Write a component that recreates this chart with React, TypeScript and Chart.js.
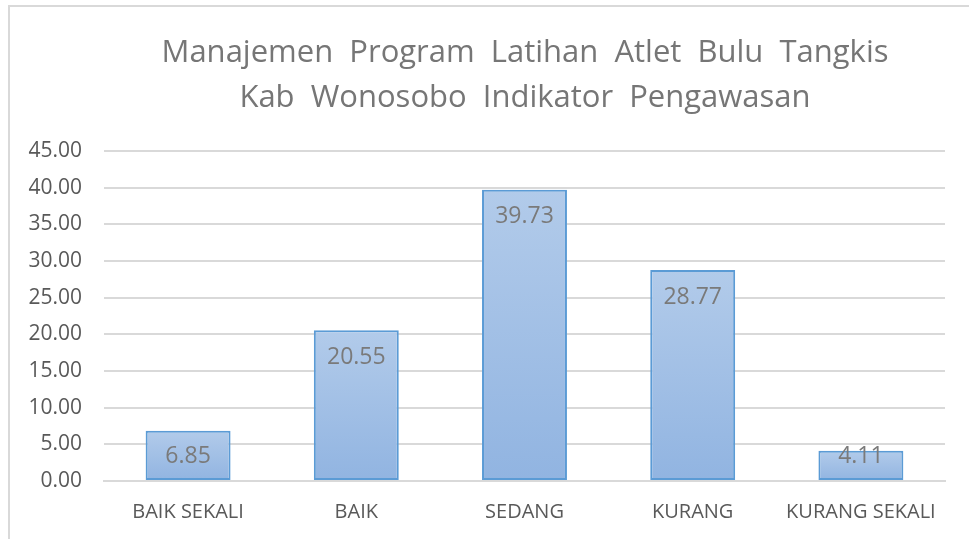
import React, { useEffect, useRef } from "react";
import { Chart, registerables } from "chart.js";

Chart.register(...registerables);

const categories = ["BAIK SEKALI", "BAIK", "SEDANG", "KURANG", "KURANG SEKALI"];
const values = [6.85, 20.55, 39.73, 28.77, 4.11];
const titleLines = [
  "Manajemen  Program  Latihan  Atlet  Bulu  Tangkis",
  "Kab  Wonosobo  Indikator  Pengawasan",
];
const yMin = 0;
const yMax = 45;
const yStep = 5;

const FONT = "'Open Sans', 'Noto Sans', sans-serif";

const decorPlugin = {
  id: "decor",
  beforeDraw(chart: any) {
    const ctx = chart.ctx;
    ctx.save();
    ctx.fillStyle = "#ffffff";
    ctx.fillRect(0, 0, chart.width, chart.height);
    ctx.strokeStyle = "#d9d9d9";
    ctx.lineWidth = 2;
    ctx.beginPath();
    ctx.moveTo(9, chart.height + 5);
    ctx.lineTo(9, 6);
    ctx.lineTo(chart.width + 5, 6);
    ctx.stroke();
    ctx.fillStyle = "#767676";
    ctx.font = `31px ${FONT}`;
    ctx.textAlign = "center";
    ctx.textBaseline = "middle";
    ctx.fillText(titleLines[0], 525, 53);
    ctx.fillText(titleLines[1], 525, 98);
    ctx.restore();
  },
  afterDatasetsDraw(chart: any) {
    const ctx = chart.ctx;
    const meta = chart.getDatasetMeta(0);
    const base = chart.scales.y.getPixelForValue(0);
    ctx.save();
    ctx.fillStyle = "#7a7a7a";
    ctx.font = `23px ${FONT}`;
    ctx.textAlign = "center";
    ctx.textBaseline = "middle";
    meta.data.forEach((el: any, i: number) => {
      let y = el.y + 27;
      if (y > base - 25) y = Math.max(el.y + 6, base - 25);
      ctx.fillText(values[i].toFixed(2), el.x, y);
    });
    ctx.restore();
  },
};

export default function App() {
  const ref = useRef<HTMLCanvasElement>(null);
  useEffect(() => {
    document.body.style.margin = "0";
    const canvas = ref.current!;
    const chart = new Chart(canvas, {
      type: "bar",
      data: {
        labels: categories,
        datasets: [
          {
            data: values,
            backgroundColor: (c: any) => {
              const ch = c.chart;
              const sy = ch.scales && ch.scales.y;
              if (!sy || c.raw === undefined) return "#a2bfe5";
              const top = sy.getPixelForValue(c.raw);
              const bottom = sy.getPixelForValue(0);
              if (!isFinite(top) || !isFinite(bottom) || top === bottom) return "#a2bfe5";
              const g = ch.ctx.createLinearGradient(0, top, 0, bottom);
              g.addColorStop(0, "#b2cbea");
              g.addColorStop(1, "#91b4e1");
              return g;
            },
            borderColor: "#5b9bd5",
            borderWidth: 2,
            borderSkipped: false,
            barPercentage: 0.505,
            categoryPercentage: 1,
          },
        ],
      },
      options: {
        responsive: false,
        animation: false,
        devicePixelRatio: 1,
        layout: { padding: { top: 151, right: 24, left: 0, bottom: 0 } },
        plugins: {
          legend: { display: false },
          title: { display: false },
          tooltip: { enabled: false },
        },
        scales: {
          x: {
            grid: { display: false, drawTicks: false },
            border: { display: true, color: "#d9d9d9", width: 2 },
            ticks: {
              color: "#595959",
              font: { family: FONT, size: 20 },
              padding: 19,
              maxRotation: 0,
              autoSkip: false,
            },
            afterFit(scale: any) {
              scale.height = 58;
            },
          },
          y: {
            min: yMin,
            max: yMax,
            grid: { color: "#d9d9d9", lineWidth: 2, drawTicks: false },
            border: { display: false },
            ticks: {
              stepSize: yStep,
              color: "#595959",
              font: { family: FONT, size: 21 },
              padding: 22,
              callback: (v: any) => Number(v).toFixed(2),
            },
            afterFit(scale: any) {
              scale.width = 104;
            },
          },
        },
      },
      plugins: [decorPlugin],
    });
    return () => chart.destroy();
  }, []);
  return (
    <div style={{ width: 969, height: 539 }}>
      <canvas ref={ref} width={969} height={539} style={{ display: "block" }} />
    </div>
  );
}
